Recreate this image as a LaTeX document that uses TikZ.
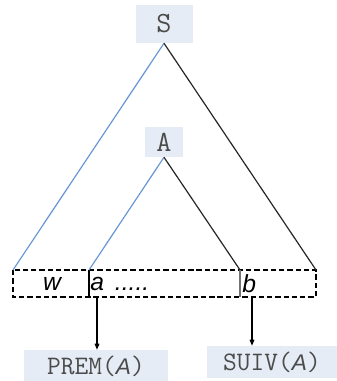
\documentclass[tikz,border=0pt]{standalone}
\usepackage{fontspec}
\setsansfont{Liberation Sans}
\usetikzlibrary{positioning,arrows.meta}

\definecolor{boxfill}{RGB}{230,236,246}
\definecolor{leftedge}{RGB}{105,150,215}
\definecolor{symtext}{RGB}{75,75,75}

\newcommand{\argA}{\textsf{\textit{\fontsize{17}{17}\selectfont A}}}

\begin{document}
\begin{tikzpicture}[x=0.75pt,y=-0.75pt,
    symbol/.style={fill=boxfill,text=symtext,inner sep=0pt,
        font=\ttfamily\fontsize{22}{22}\selectfont},
    fnbox/.style={fill=boxfill,text=symtext,inner sep=0pt,
        font=\ttfamily\fontsize{20}{20}\selectfont\addfontfeatures{LetterSpace=12}},
    word/.style={inner sep=0pt,font=\sffamily\itshape\fontsize{18.5}{18.5}\selectfont},
    lbranch/.style={draw=leftedge,line width=0.9pt},
    rbranch/.style={draw=black!85,line width=0.9pt},
    ptr/.style={-{Triangle[length=4.5pt,width=3.5pt]},line width=0.8pt}]
    \useasboundingbox (0,0) rectangle (336,381);

    % the two symbols
    \node[symbol,minimum width=42.75pt,minimum height=28.5pt] (S) at (164,24) {S};
    \node[symbol,minimum width=28.5pt,minimum height=22.5pt] (A) at (164,142) {A};

    % the word strip
    \coordinate (wl) at (13,270);
    \coordinate (wr) at (316,297);
    \coordinate (sa) at (89,270);
    \coordinate (sb) at (240,270);
    \draw[dashed,dash pattern=on 4pt off 2.2pt,line width=0.8pt] (wl) rectangle (wr);
    \draw[line width=0.8pt] (sa) -- (sa |- wr);
    \draw[black!55,line width=1.5pt] (sb) -- (sb |- wr);

    \node[word] (w) at (52,284) {w};
    \node[word,anchor=west] (a) at (90,284) {a\, .....};
    \node[word,anchor=west] (b) at (242,284) {b};

    % branches of the tree
    \draw[lbranch] (S.south) -- (wl);
    \draw[rbranch] (S.south) -- (wl -| wr);
    \draw[lbranch] (A.south) -- (sa);
    \draw[rbranch] (A.south) -- (sb);

    % pointers to the first and next symbols
    \node[fnbox,minimum width=108pt,minimum height=24pt] (prem) at (96,366) {PREM(\argA)};
    \node[fnbox,minimum width=98pt,minimum height=24pt] (suiv) at (272,362) {SUIV(\argA)};
    \coordinate (pa) at (97,297);
    \coordinate (pb) at (252,297);
    \draw[ptr] (pa) -- (pa |- prem.north);
    \draw[ptr] (pb) -- (pb |- suiv.north);
\end{tikzpicture}
\end{document}
